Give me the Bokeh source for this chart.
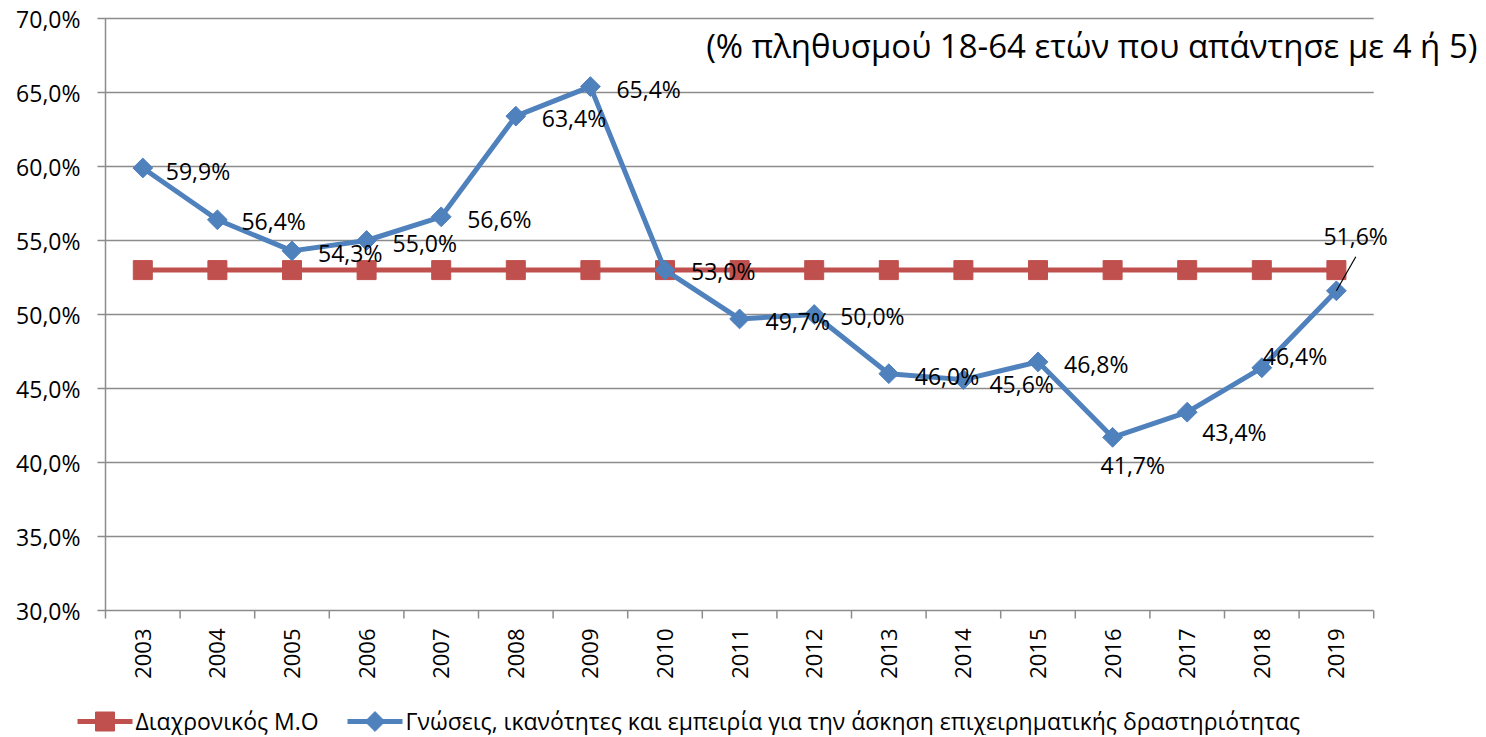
import numpy as np
from bokeh.plotting import figure
from bokeh.models import ColumnDataSource, Label, LabelSet
from bokeh.embed import file_html
from bokeh.resources import INLINE
from bokeh.core.properties import value

# ---------------- data ----------------
years = ["2003", "2004", "2005", "2006", "2007", "2008", "2009", "2010", "2011",
         "2012", "2013", "2014", "2015", "2016", "2017", "2018", "2019"]
average = [53.0, 53.0, 53.0, 53.0, 53.0, 53.0, 53.0, 53.0, 53.0,
           53.0, 53.0, 53.0, 53.0, 53.0, 53.0, 53.0, 53.0]
knowledge = [59.9, 56.4, 54.3, 55.0, 56.6, 63.4, 65.4, 53.0, 49.7,
             50.0, 46.0, 45.6, 46.8, 41.7, 43.4, 46.4, 51.6]
y_ticks = [30, 35, 40, 45, 50, 55, 60, 65, 70]
y_tick_labels = ["30,0%", "35,0%", "40,0%", "45,0%", "50,0%", "55,0%",
                 "60,0%", "65,0%", "70,0%"]
series_names = ["Διαχρονικός Μ.Ο",
                "Γνώσεις, ικανότητες και εμπειρία για την άσκηση επιχειρηματικής δραστηριότητας"]
subtitle = "(% πληθυσμού 18-64 ετών που απάντησε με 4 ή 5)"

# label placement (screen px offsets from point, +dy = downwards) - style only
label_dx = [23, 24, 26, 26, 26, 26, 26, 26, 26, 26, 26, 26, 26, -12, 15, 1, -13]
label_dy = [3, 1, 2, 2, 2, 2, 2, 1, 2, 1, 2, 4, 2, 28, 20, -12, -55]

FONT = "Open Sans"
RED = "#C0504D"
BLUE = "#4F81BD"
GRID = "#8C8C8C"

# ---------------- geometry (pixels) ----------------
W, H = 1484, 735
LEFT, TOP, BOTTOM = 105, 18, 610
CAT_PX = 74.6
Y_MIN, Y_MAX = y_ticks[0], y_ticks[-1]
PX_PER_UNIT = (BOTTOM - TOP) / (Y_MAX - Y_MIN)
TICK = 8

n = len(years)
xs = np.arange(1, n + 1)
x0 = 0.5
x1 = n + 0.5
x_range = (x0 - LEFT / CAT_PX, x0 + (W - LEFT) / CAT_PX)
y_range = (Y_MIN - (H - BOTTOM) / PX_PER_UNIT, Y_MAX + TOP / PX_PER_UNIT)


def px_x(px):
    return x0 + (px - LEFT) / CAT_PX


def px_y(py):
    return Y_MIN - (py - BOTTOM) / PX_PER_UNIT


labels = [f"{v:.1f}".replace(".", ",") + "%" for v in knowledge]
label_up = [-d for d in label_dy]   # LabelSet y_offset is positive upwards

p = figure(frame_width=W, frame_height=H, x_range=x_range, y_range=y_range,
           output_backend="svg", toolbar_location=None,
           min_border=0, min_border_left=0, min_border_right=0,
           min_border_top=0, min_border_bottom=0)
p.outline_line_color = None
p.axis.visible = False
p.grid.visible = False
p.background_fill_color = "white"
p.border_fill_color = "white"

# gridlines (with outward tick on the left), y axis line, category ticks
p.segment(x0=[x0 - TICK / CAT_PX] * len(y_ticks), y0=y_ticks,
          x1=[x1] * len(y_ticks), y1=y_ticks, line_color=GRID, line_width=1.5)
p.segment(x0=[x0], y0=[Y_MIN], x1=[x0], y1=[Y_MAX], line_color=GRID, line_width=1.5)
bounds = np.arange(x0, x1 + 0.01, 1.0)
p.segment(x0=bounds, y0=[Y_MIN] * len(bounds), x1=bounds,
          y1=[Y_MIN - TICK / PX_PER_UNIT] * len(bounds),
          line_color=GRID, line_width=1.5)

# tick labels
ysrc = ColumnDataSource(dict(x=[x0] * len(y_ticks), y=y_ticks, t=y_tick_labels))
p.add_layout(LabelSet(x="x", y="y", text="t", source=ysrc, x_offset=-25,
                      text_font=value(FONT), text_font_size="23px", text_color="black",
                      text_align="right", text_baseline="middle"))
xsrc = ColumnDataSource(dict(x=xs, y=[Y_MIN] * n, t=years))
p.add_layout(LabelSet(x="x", y="y", text="t", source=xsrc, y_offset=-18, angle=np.pi / 2,
                      text_font=value(FONT), text_font_size="22px", text_color="black",
                      text_align="right", text_baseline="middle"))

# series
src = ColumnDataSource(dict(x=xs, avg=average, k=knowledge, lab=labels,
                            dx=label_dx, dy=label_up))
p.line("x", "avg", source=src, line_color=RED, line_width=5)
p.scatter("x", "avg", source=src, marker="square", size=19,
          fill_color=RED, line_color=RED)
p.line("x", "k", source=src, line_color=BLUE, line_width=5)
p.scatter("x", "k", source=src, marker="square", angle=np.pi / 4, size=14,
          fill_color=BLUE, line_color=BLUE)

# leader line for last label
last = n - 1
p.segment(x0=[xs[last]], y0=[knowledge[last]],
          x1=[xs[last] + 0.26], y1=[knowledge[last] + 2.3],
          line_color="black", line_width=1.2)

p.add_layout(LabelSet(x="x", y="k", text="lab", source=src, x_offset="dx", y_offset="dy",
                      text_font=value(FONT), text_font_size="23px", text_color="black",
                      text_align="left", text_baseline="middle"))

p.add_layout(Label(x=x_range[1], y=Y_MAX - 27 / PX_PER_UNIT, x_offset=-7, text=subtitle,
                   text_align="right", text_baseline="middle", text_font=FONT,
                   text_font_size="33px", text_color="black"))

# ---------------- legend (drawn below the axis) ----------------
LEG_Y = px_y(721)
leg_starts = [77, 347]          # px where each legend sample begins
SAMPLE_W = 55
leg_colors = [RED, BLUE]
leg_markers = ["square", "square"]
leg_angles = [0.0, np.pi / 4]
leg_sizes = [19, 14]
for s, c, m, a, sz in zip(leg_starts, leg_colors, leg_markers, leg_angles, leg_sizes):
    p.line([px_x(s), px_x(s + SAMPLE_W)], [LEG_Y, LEG_Y], line_color=c, line_width=5)
    p.scatter([px_x(s + SAMPLE_W / 2)], [LEG_Y], marker=m, angle=a, size=sz,
              fill_color=c, line_color=c)
lsrc = ColumnDataSource(dict(x=[px_x(s + SAMPLE_W + 3) for s in leg_starts],
                             y=[LEG_Y, LEG_Y], t=series_names))
p.add_layout(LabelSet(x="x", y="y", text="t", source=lsrc, y_offset=1,
                      text_font=value(FONT), text_font_size="23px", text_color="black",
                      text_align="left", text_baseline="middle"))

open("out.html", "w").write(file_html(p, INLINE))
